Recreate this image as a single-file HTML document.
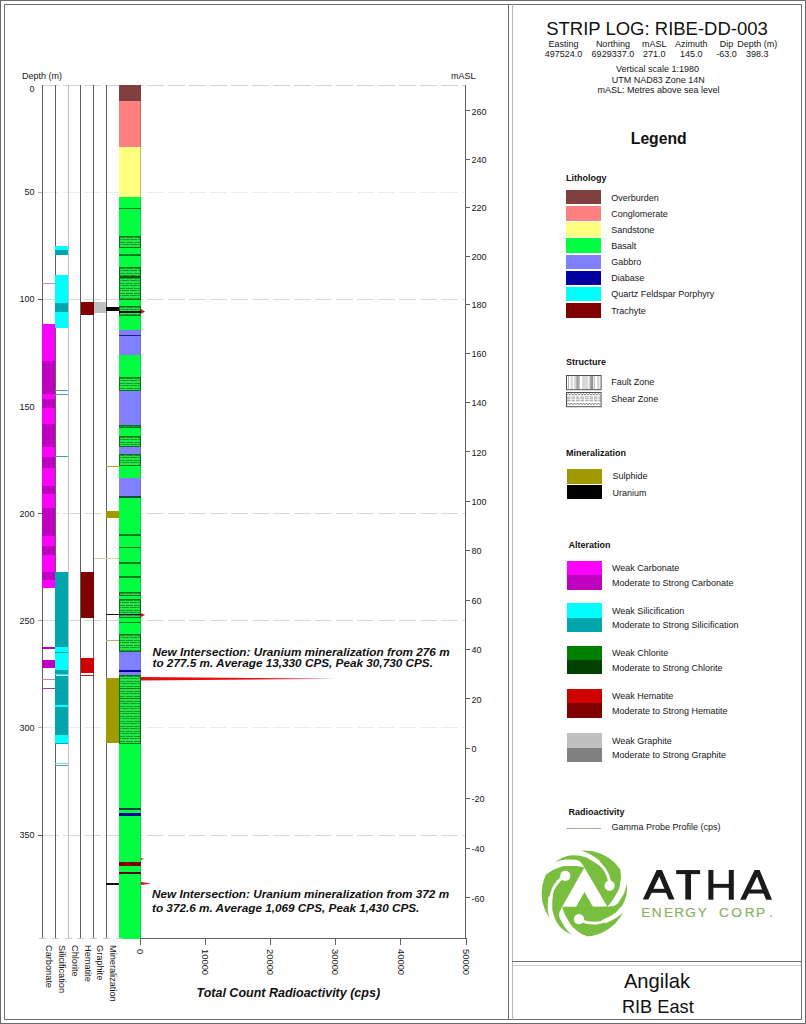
<!DOCTYPE html><html><head><meta charset="utf-8"><style>
html,body{margin:0;padding:0;background:#fff;}
body{width:806px;height:1024px;position:relative;overflow:hidden;font-family:"Liberation Sans", sans-serif;}
div{box-sizing:border-box;}
</style></head><body>
<div style="position:absolute;left:0.00px;top:0.00px;width:806.00px;height:1.00px;background:#6a6a6a;"></div>
<div style="position:absolute;left:0.00px;top:1023.00px;width:806.00px;height:1.00px;background:#6a6a6a;"></div>
<div style="position:absolute;left:0.00px;top:0.00px;width:1.00px;height:1024.00px;background:#6a6a6a;"></div>
<div style="position:absolute;left:805.00px;top:0.00px;width:1.00px;height:1024.00px;background:#6a6a6a;"></div>
<div style="position:absolute;left:4.00px;top:4.00px;width:798.00px;height:1.00px;background:#707070;"></div>
<div style="position:absolute;left:4.00px;top:1019.00px;width:798.00px;height:1.00px;background:#707070;"></div>
<div style="position:absolute;left:4.00px;top:4.00px;width:1.00px;height:1016.00px;background:#707070;"></div>
<div style="position:absolute;left:801.00px;top:4.00px;width:1.00px;height:1016.00px;background:#707070;"></div>
<div style="position:absolute;left:508.00px;top:4.00px;width:1.00px;height:1016.00px;background:#707070;"></div>
<div style="position:absolute;left:512.00px;top:4.00px;width:1.00px;height:1016.00px;background:#b8b8b8;"></div>
<div style="position:absolute;left:512.00px;top:961.00px;width:289.00px;height:1.00px;background:#707070;"></div>
<div style="position:absolute;left:513.00px;top:965.00px;width:288.00px;height:1.00px;background:#d0d0d0;"></div>
<div style="position:absolute;left:42px;top:84.50px;width:424px;height:1px;background:repeating-linear-gradient(90deg,#d4d4d4 0 17px,transparent 17px 21px);"></div>
<div style="position:absolute;left:42px;top:191.64px;width:424px;height:1px;background:repeating-linear-gradient(90deg,#ebebeb 0 17px,transparent 17px 21px);"></div>
<div style="position:absolute;left:42px;top:298.79px;width:424px;height:1px;background:repeating-linear-gradient(90deg,#dadada 0 17px,transparent 17px 21px);"></div>
<div style="position:absolute;left:42px;top:513.08px;width:424px;height:1px;background:repeating-linear-gradient(90deg,#d8d8d8 0 17px,transparent 17px 21px);"></div>
<div style="position:absolute;left:42px;top:620.23px;width:424px;height:1px;background:repeating-linear-gradient(90deg,#d8d8d8 0 17px,transparent 17px 21px);"></div>
<div style="position:absolute;left:42px;top:727.37px;width:424px;height:1px;background:repeating-linear-gradient(90deg,#eaeaea 0 17px,transparent 17px 21px);"></div>
<div style="position:absolute;left:42px;top:834.51px;width:424px;height:1px;background:repeating-linear-gradient(90deg,#d8d8d8 0 17px,transparent 17px 21px);"></div>
<div style="position:absolute;left:119.00px;top:85.00px;width:22.00px;height:16.00px;background:#804040;"></div>
<div style="position:absolute;left:119.00px;top:101.00px;width:22.00px;height:45.80px;background:#ff8080;"></div>
<div style="position:absolute;left:119.00px;top:146.80px;width:22.00px;height:50.20px;background:#ffff80;"></div>
<div style="position:absolute;left:119.00px;top:197.00px;width:22.00px;height:741.60px;background:#00ff40;"></div>
<div style="position:absolute;left:119.00px;top:207.70px;width:22.00px;height:1.20px;background:#0b7a22;"></div>
<svg style="position:absolute;left:119px;top:236px" width="22" height="12"><rect x="0" y="0" width="100%" height="100%" fill="url(#hp)"/><rect x="0.5" y="0.5" width="21" height="11" fill="none" stroke="#0b7020" stroke-width="1"/></svg>
<div style="position:absolute;left:119.00px;top:254.35px;width:22.00px;height:1.50px;background:#0b7a22;"></div>
<svg style="position:absolute;left:119px;top:267px" width="22" height="33"><rect x="0" y="0" width="100%" height="100%" fill="url(#hp)"/><rect x="0.5" y="0.5" width="21" height="32" fill="none" stroke="#0b7020" stroke-width="1"/></svg>
<div style="position:absolute;left:119.00px;top:275.60px;width:22.00px;height:2.00px;background:#0a5a14;"></div>
<svg style="position:absolute;left:119px;top:306px" width="22" height="10"><rect x="0" y="0" width="100%" height="100%" fill="url(#hp)"/><rect x="0.5" y="0.5" width="21" height="9" fill="none" stroke="#0b7020" stroke-width="1"/></svg>
<div style="position:absolute;left:119.00px;top:311.45px;width:22.00px;height:1.50px;background:#000;"></div>
<div style="position:absolute;left:119.00px;top:330.00px;width:22.00px;height:25.30px;background:#8080ff;"></div>
<div style="position:absolute;left:119.00px;top:334.75px;width:22.00px;height:1.50px;background:#202080;"></div>
<svg style="position:absolute;left:119px;top:377px" width="22" height="14"><rect x="0" y="0" width="100%" height="100%" fill="url(#hp)"/><rect x="0.5" y="0.5" width="21" height="13" fill="none" stroke="#0b7020" stroke-width="1"/></svg>
<div style="position:absolute;left:119.00px;top:391.30px;width:22.00px;height:33.40px;background:#8080ff;"></div>
<svg style="position:absolute;left:119px;top:425px" width="22" height="3"><rect x="0" y="0" width="100%" height="100%" fill="url(#hp)"/><rect x="0.5" y="0.5" width="21" height="2" fill="none" stroke="#0b7020" stroke-width="1"/></svg>
<svg style="position:absolute;left:119px;top:436px" width="22" height="11"><rect x="0" y="0" width="100%" height="100%" fill="url(#hp)"/><rect x="0.5" y="0.5" width="21" height="10" fill="none" stroke="#0b7020" stroke-width="1"/></svg>
<div style="position:absolute;left:119.00px;top:446.60px;width:22.00px;height:7.90px;background:#8080ff;"></div>
<svg style="position:absolute;left:119px;top:454px" width="22" height="12"><rect x="0" y="0" width="100%" height="100%" fill="url(#hp)"/><rect x="0.5" y="0.5" width="21" height="11" fill="none" stroke="#0b7020" stroke-width="1"/></svg>
<div style="position:absolute;left:119.00px;top:478.00px;width:22.00px;height:19.00px;background:#8080ff;"></div>
<div style="position:absolute;left:119.00px;top:496.25px;width:22.00px;height:1.50px;background:#104a40;"></div>
<div style="position:absolute;left:119.00px;top:534.05px;width:22.00px;height:1.50px;background:#0b7a22;"></div>
<div style="position:absolute;left:119.00px;top:546.95px;width:22.00px;height:1.50px;background:#0b7a22;"></div>
<div style="position:absolute;left:119.00px;top:562.45px;width:22.00px;height:1.50px;background:#0b7a22;"></div>
<div style="position:absolute;left:119.00px;top:576.25px;width:22.00px;height:1.50px;background:#0b7a22;"></div>
<svg style="position:absolute;left:119px;top:592px" width="22" height="4"><rect x="0" y="0" width="100%" height="100%" fill="url(#hp)"/><rect x="0.5" y="0.5" width="21" height="3" fill="none" stroke="#0b7020" stroke-width="1"/></svg>
<svg style="position:absolute;left:119px;top:599px" width="22" height="19"><rect x="0" y="0" width="100%" height="100%" fill="url(#hp)"/><rect x="0.5" y="0.5" width="21" height="18" fill="none" stroke="#0b7020" stroke-width="1"/></svg>
<div style="position:absolute;left:119.00px;top:613.55px;width:22.00px;height:1.50px;background:#000;"></div>
<div style="position:absolute;left:119.00px;top:621.70px;width:22.00px;height:1.20px;background:#0b7a22;"></div>
<svg style="position:absolute;left:119px;top:634px" width="22" height="18"><rect x="0" y="0" width="100%" height="100%" fill="url(#hp)"/><rect x="0.5" y="0.5" width="21" height="17" fill="none" stroke="#0b7020" stroke-width="1"/></svg>
<div style="position:absolute;left:119.00px;top:652.30px;width:22.00px;height:23.00px;background:#8080ff;"></div>
<div style="position:absolute;left:119.00px;top:670.00px;width:22.00px;height:2.00px;background:#0000a0;"></div>
<svg style="position:absolute;left:119px;top:675px" width="22" height="69"><rect x="0" y="0" width="100%" height="100%" fill="url(#hp)"/><rect x="0.5" y="0.5" width="21" height="68" fill="none" stroke="#0b7020" stroke-width="1"/></svg>
<div style="position:absolute;left:119.00px;top:687.75px;width:22.00px;height:1.50px;background:#0b7a22;"></div>
<div style="position:absolute;left:119.00px;top:697.65px;width:22.00px;height:1.50px;background:#0b7a22;"></div>
<div style="position:absolute;left:119.00px;top:808.00px;width:22.00px;height:2.00px;background:#104040;"></div>
<div style="position:absolute;left:119.00px;top:813.40px;width:22.00px;height:2.40px;background:#0000a0;"></div>
<div style="position:absolute;left:119.00px;top:861.80px;width:22.00px;height:4.00px;background:#800000;"></div>
<div style="position:absolute;left:119.00px;top:872.25px;width:22.00px;height:1.50px;background:#600000;"></div>
<svg width="0" height="0" style="position:absolute"><defs>
<pattern id="hp" patternUnits="userSpaceOnUse" width="8" height="5">
<rect width="8" height="5" fill="#22e844"/>
<rect x="0" y="1" width="8" height="1" fill="#0f9a2c"/>
<rect x="6" y="1" width="1" height="1" fill="#40d050"/>
<rect x="0" y="3" width="8" height="1" fill="#0f9a2c"/>
<rect x="2" y="3" width="1" height="1" fill="#40d050"/>
</pattern></defs></svg>
<div style="position:absolute;left:42.00px;top:85.00px;width:1.00px;height:853.60px;background:#606060;"></div>
<div style="position:absolute;left:55.00px;top:85.00px;width:1.00px;height:853.60px;background:#606060;"></div>
<div style="position:absolute;left:68.00px;top:85.00px;width:1.00px;height:853.60px;background:#c0c0c0;"></div>
<div style="position:absolute;left:80.00px;top:85.00px;width:1.00px;height:853.60px;background:#606060;"></div>
<div style="position:absolute;left:93.00px;top:85.00px;width:1.00px;height:853.60px;background:#606060;"></div>
<div style="position:absolute;left:106.00px;top:85.00px;width:1.00px;height:853.60px;background:#606060;"></div>
<div style="position:absolute;left:42.00px;top:323.90px;width:13.00px;height:37.50px;background:#ff00ff;"></div>
<div style="position:absolute;left:42.00px;top:361.40px;width:13.00px;height:32.80px;background:#c000c0;"></div>
<div style="position:absolute;left:42.00px;top:394.20px;width:13.00px;height:4.80px;background:#ff00ff;"></div>
<div style="position:absolute;left:42.00px;top:399.00px;width:13.00px;height:8.80px;background:#c000c0;"></div>
<div style="position:absolute;left:42.00px;top:407.80px;width:13.00px;height:16.40px;background:#ff00ff;"></div>
<div style="position:absolute;left:42.00px;top:424.20px;width:13.00px;height:22.50px;background:#c000c0;"></div>
<div style="position:absolute;left:42.00px;top:446.70px;width:13.00px;height:9.90px;background:#ff00ff;"></div>
<div style="position:absolute;left:42.00px;top:456.60px;width:13.00px;height:11.00px;background:#c000c0;"></div>
<div style="position:absolute;left:42.00px;top:467.60px;width:13.00px;height:18.30px;background:#ff00ff;"></div>
<div style="position:absolute;left:42.00px;top:485.90px;width:13.00px;height:8.10px;background:#c000c0;"></div>
<div style="position:absolute;left:42.00px;top:494.00px;width:13.00px;height:13.90px;background:#ff00ff;"></div>
<div style="position:absolute;left:42.00px;top:507.90px;width:13.00px;height:28.50px;background:#c000c0;"></div>
<div style="position:absolute;left:42.00px;top:536.40px;width:13.00px;height:9.60px;background:#ff00ff;"></div>
<div style="position:absolute;left:42.00px;top:546.00px;width:13.00px;height:8.80px;background:#c000c0;"></div>
<div style="position:absolute;left:42.00px;top:554.80px;width:13.00px;height:17.50px;background:#ff00ff;"></div>
<div style="position:absolute;left:42.00px;top:572.30px;width:13.00px;height:7.40px;background:#c000c0;"></div>
<div style="position:absolute;left:42.00px;top:579.70px;width:13.00px;height:8.80px;background:#ff00ff;"></div>
<div style="position:absolute;left:42.00px;top:647.00px;width:13.00px;height:2.00px;background:#c000c0;"></div>
<div style="position:absolute;left:42.00px;top:660.30px;width:13.00px;height:7.30px;background:#c000c0;"></div>
<div style="position:absolute;left:42.00px;top:282.50px;width:13.00px;height:1.20px;background:#c090c0;"></div>
<div style="position:absolute;left:42.00px;top:678.50px;width:13.00px;height:1.20px;background:#d080b0;"></div>
<div style="position:absolute;left:42.00px;top:687.60px;width:13.00px;height:1.20px;background:#a04090;"></div>
<div style="position:absolute;left:55.00px;top:246.30px;width:13.00px;height:3.50px;background:#00ffff;"></div>
<div style="position:absolute;left:55.00px;top:249.80px;width:13.00px;height:5.00px;background:#00a6ac;"></div>
<div style="position:absolute;left:55.00px;top:274.50px;width:13.00px;height:28.70px;background:#00ffff;"></div>
<div style="position:absolute;left:55.00px;top:303.20px;width:13.00px;height:8.80px;background:#00a6ac;"></div>
<div style="position:absolute;left:55.00px;top:312.00px;width:13.00px;height:16.00px;background:#00ffff;"></div>
<div style="position:absolute;left:55.00px;top:571.60px;width:13.00px;height:75.20px;background:#00a6ac;"></div>
<div style="position:absolute;left:55.00px;top:646.80px;width:13.00px;height:23.20px;background:#00ffff;"></div>
<div style="position:absolute;left:55.00px;top:651.60px;width:13.00px;height:1.40px;background:#00a6ac;"></div>
<div style="position:absolute;left:55.00px;top:670.00px;width:13.00px;height:3.70px;background:#00a6ac;"></div>
<div style="position:absolute;left:55.00px;top:673.70px;width:13.00px;height:1.80px;background:#00ffff;"></div>
<div style="position:absolute;left:55.00px;top:675.50px;width:13.00px;height:68.00px;background:#00a6ac;"></div>
<div style="position:absolute;left:55.00px;top:705.00px;width:13.00px;height:2.00px;background:#00ffff;"></div>
<div style="position:absolute;left:55.00px;top:734.70px;width:13.00px;height:8.80px;background:#00ffff;"></div>
<div style="position:absolute;left:55.00px;top:389.50px;width:13.00px;height:1.20px;background:#40a0b0;"></div>
<div style="position:absolute;left:55.00px;top:393.60px;width:13.00px;height:1.20px;background:#40a0b0;"></div>
<div style="position:absolute;left:55.00px;top:455.60px;width:13.00px;height:1.20px;background:#40a0b0;"></div>
<div style="position:absolute;left:55.00px;top:765.00px;width:13.00px;height:1.20px;background:#40a0b0;"></div>
<div style="position:absolute;left:55.00px;top:763.10px;width:13.00px;height:1.20px;background:#90d0d0;"></div>
<div style="position:absolute;left:81.00px;top:302.00px;width:13.00px;height:12.50px;background:#800000;"></div>
<div style="position:absolute;left:81.00px;top:572.00px;width:13.00px;height:46.00px;background:#800000;"></div>
<div style="position:absolute;left:81.00px;top:658.00px;width:13.00px;height:14.90px;background:#d00000;"></div>
<div style="position:absolute;left:81.00px;top:675.00px;width:13.00px;height:1.30px;background:#a02020;"></div>
<div style="position:absolute;left:94.00px;top:302.00px;width:12.00px;height:11.00px;background:#c0c0c0;"></div>
<div style="position:absolute;left:106.00px;top:306.50px;width:13.00px;height:4.50px;background:#000;"></div>
<div style="position:absolute;left:106.00px;top:465.70px;width:13.00px;height:1.20px;background:#b0a040;"></div>
<div style="position:absolute;left:106.00px;top:510.60px;width:13.00px;height:7.30px;background:#a09a00;"></div>
<div style="position:absolute;left:94.00px;top:557.80px;width:25.00px;height:1.20px;background:#d8d0a0;"></div>
<div style="position:absolute;left:106.00px;top:613.70px;width:13.00px;height:1.30px;background:#111;"></div>
<div style="position:absolute;left:106.00px;top:640.00px;width:13.00px;height:1.20px;background:#b8b070;"></div>
<div style="position:absolute;left:106.00px;top:677.70px;width:13.00px;height:65.80px;background:#a09a00;"></div>
<div style="position:absolute;left:106.00px;top:883.30px;width:13.00px;height:1.30px;background:#111;"></div>
<div style="position:absolute;left:140.20px;top:197.00px;width:0.70px;height:741.60px;background:rgba(80,60,60,0.22);"></div>
<div style="position:absolute;left:140.20px;top:85.00px;width:0.70px;height:112.00px;background:rgba(80,60,60,0.35);"></div>
<svg style="position:absolute;left:141px;top:308.00px" width="6.00" height="7"><polygon points="0,1 4.00,3.50 0,6" fill="#e01010"/></svg>
<svg style="position:absolute;left:141px;top:612.00px" width="6.00" height="6"><polygon points="0,1 4.00,3.00 0,5" fill="#e01010"/></svg>
<svg style="position:absolute;left:141px;top:675.55px" width="196.00" height="5.5"><polygon points="0,1 194.00,2.75 0,4.5" fill="#e01010"/></svg>
<svg style="position:absolute;left:141px;top:856.50px" width="5.00" height="4"><polygon points="0,1 3.00,2.00 0,3" fill="#e01010"/></svg>
<svg style="position:absolute;left:141px;top:880.80px" width="12.00" height="5"><polygon points="0,1 10.00,2.50 0,4" fill="#e01010"/></svg>
<div style="position:absolute;left:38.00px;top:85.00px;width:4.00px;height:1.00px;background:#fff;"></div>
<div style="position:absolute;left:34.50px;top:84.68px;font-size:9px;line-height:9px;font-weight:normal;font-style:normal;color:#161616;white-space:nowrap;transform:translateX(-100%);">0</div>
<div style="position:absolute;left:38.00px;top:191.64px;width:4.00px;height:1.00px;background:#b0b0b0;"></div>
<div style="position:absolute;left:34.50px;top:188.33px;font-size:9px;line-height:9px;font-weight:normal;font-style:normal;color:#161616;white-space:nowrap;transform:translateX(-100%);">50</div>
<div style="position:absolute;left:38.00px;top:298.79px;width:4.00px;height:1.00px;background:#555;"></div>
<div style="position:absolute;left:34.50px;top:295.47px;font-size:9px;line-height:9px;font-weight:normal;font-style:normal;color:#161616;white-space:nowrap;transform:translateX(-100%);">100</div>
<div style="position:absolute;left:34.50px;top:402.62px;font-size:9px;line-height:9px;font-weight:normal;font-style:normal;color:#161616;white-space:nowrap;transform:translateX(-100%);">150</div>
<div style="position:absolute;left:38.00px;top:513.08px;width:4.00px;height:1.00px;background:#666;"></div>
<div style="position:absolute;left:34.50px;top:509.76px;font-size:9px;line-height:9px;font-weight:normal;font-style:normal;color:#161616;white-space:nowrap;transform:translateX(-100%);">200</div>
<div style="position:absolute;left:38.00px;top:620.23px;width:4.00px;height:1.00px;background:#a0a0a0;"></div>
<div style="position:absolute;left:34.50px;top:616.91px;font-size:9px;line-height:9px;font-weight:normal;font-style:normal;color:#161616;white-space:nowrap;transform:translateX(-100%);">250</div>
<div style="position:absolute;left:38.00px;top:727.37px;width:4.00px;height:1.00px;background:#b0b0b0;"></div>
<div style="position:absolute;left:34.50px;top:724.05px;font-size:9px;line-height:9px;font-weight:normal;font-style:normal;color:#161616;white-space:nowrap;transform:translateX(-100%);">300</div>
<div style="position:absolute;left:38.00px;top:834.51px;width:4.00px;height:1.00px;background:#555;"></div>
<div style="position:absolute;left:34.50px;top:831.20px;font-size:9px;line-height:9px;font-weight:normal;font-style:normal;color:#161616;white-space:nowrap;transform:translateX(-100%);">350</div>
<div style="position:absolute;left:22.00px;top:71.68px;font-size:9px;line-height:9px;font-weight:normal;font-style:normal;color:#161616;white-space:nowrap;">Depth (m)</div>
<div style="position:absolute;left:451.00px;top:72.38px;font-size:9px;line-height:9px;font-weight:normal;font-style:normal;color:#161616;white-space:nowrap;">mASL</div>
<div style="position:absolute;left:465.00px;top:85.00px;width:1.00px;height:854.10px;background:#606060;"></div>
<div style="position:absolute;left:466.00px;top:110.30px;width:4.00px;height:1.00px;background:#606060;"></div>
<div style="position:absolute;left:471.50px;top:107.58px;font-size:9px;line-height:9px;font-weight:normal;font-style:normal;color:#161616;white-space:nowrap;">260</div>
<div style="position:absolute;left:466.00px;top:159.20px;width:4.00px;height:1.00px;background:#606060;"></div>
<div style="position:absolute;left:471.50px;top:156.48px;font-size:9px;line-height:9px;font-weight:normal;font-style:normal;color:#161616;white-space:nowrap;">240</div>
<div style="position:absolute;left:466.00px;top:207.20px;width:4.00px;height:1.00px;background:#606060;"></div>
<div style="position:absolute;left:471.50px;top:204.48px;font-size:9px;line-height:9px;font-weight:normal;font-style:normal;color:#161616;white-space:nowrap;">220</div>
<div style="position:absolute;left:466.00px;top:255.50px;width:4.00px;height:1.00px;background:#606060;"></div>
<div style="position:absolute;left:471.50px;top:252.78px;font-size:9px;line-height:9px;font-weight:normal;font-style:normal;color:#161616;white-space:nowrap;">200</div>
<div style="position:absolute;left:466.00px;top:304.10px;width:4.00px;height:1.00px;background:#606060;"></div>
<div style="position:absolute;left:471.50px;top:301.38px;font-size:9px;line-height:9px;font-weight:normal;font-style:normal;color:#161616;white-space:nowrap;">180</div>
<div style="position:absolute;left:466.00px;top:353.20px;width:4.00px;height:1.00px;background:#606060;"></div>
<div style="position:absolute;left:471.50px;top:350.48px;font-size:9px;line-height:9px;font-weight:normal;font-style:normal;color:#161616;white-space:nowrap;">160</div>
<div style="position:absolute;left:466.00px;top:402.00px;width:4.00px;height:1.00px;background:#606060;"></div>
<div style="position:absolute;left:471.50px;top:399.28px;font-size:9px;line-height:9px;font-weight:normal;font-style:normal;color:#161616;white-space:nowrap;">140</div>
<div style="position:absolute;left:466.00px;top:451.40px;width:4.00px;height:1.00px;background:#606060;"></div>
<div style="position:absolute;left:471.50px;top:448.68px;font-size:9px;line-height:9px;font-weight:normal;font-style:normal;color:#161616;white-space:nowrap;">120</div>
<div style="position:absolute;left:466.00px;top:500.50px;width:4.00px;height:1.00px;background:#606060;"></div>
<div style="position:absolute;left:471.50px;top:497.78px;font-size:9px;line-height:9px;font-weight:normal;font-style:normal;color:#161616;white-space:nowrap;">100</div>
<div style="position:absolute;left:466.00px;top:549.50px;width:4.00px;height:1.00px;background:#606060;"></div>
<div style="position:absolute;left:471.50px;top:546.78px;font-size:9px;line-height:9px;font-weight:normal;font-style:normal;color:#161616;white-space:nowrap;">80</div>
<div style="position:absolute;left:466.00px;top:599.50px;width:4.00px;height:1.00px;background:#606060;"></div>
<div style="position:absolute;left:471.50px;top:596.78px;font-size:9px;line-height:9px;font-weight:normal;font-style:normal;color:#161616;white-space:nowrap;">60</div>
<div style="position:absolute;left:466.00px;top:648.60px;width:4.00px;height:1.00px;background:#606060;"></div>
<div style="position:absolute;left:471.50px;top:645.88px;font-size:9px;line-height:9px;font-weight:normal;font-style:normal;color:#161616;white-space:nowrap;">40</div>
<div style="position:absolute;left:466.00px;top:698.40px;width:4.00px;height:1.00px;background:#606060;"></div>
<div style="position:absolute;left:471.50px;top:695.68px;font-size:9px;line-height:9px;font-weight:normal;font-style:normal;color:#161616;white-space:nowrap;">20</div>
<div style="position:absolute;left:466.00px;top:748.20px;width:4.00px;height:1.00px;background:#606060;"></div>
<div style="position:absolute;left:471.50px;top:745.48px;font-size:9px;line-height:9px;font-weight:normal;font-style:normal;color:#161616;white-space:nowrap;">0</div>
<div style="position:absolute;left:466.00px;top:798.00px;width:4.00px;height:1.00px;background:#606060;"></div>
<div style="position:absolute;left:471.50px;top:795.28px;font-size:9px;line-height:9px;font-weight:normal;font-style:normal;color:#161616;white-space:nowrap;">-20</div>
<div style="position:absolute;left:466.00px;top:847.80px;width:4.00px;height:1.00px;background:#606060;"></div>
<div style="position:absolute;left:471.50px;top:845.08px;font-size:9px;line-height:9px;font-weight:normal;font-style:normal;color:#161616;white-space:nowrap;">-40</div>
<div style="position:absolute;left:466.00px;top:897.30px;width:4.00px;height:1.00px;background:#606060;"></div>
<div style="position:absolute;left:471.50px;top:894.58px;font-size:9px;line-height:9px;font-weight:normal;font-style:normal;color:#161616;white-space:nowrap;">-60</div>
<div style="position:absolute;left:140.00px;top:938.00px;width:326.00px;height:1.00px;background:#606060;"></div>
<div style="position:absolute;left:140.00px;top:938.00px;width:1.00px;height:7.00px;background:#606060;"></div>
<div style="position:absolute;left:145.16px;top:948.50px;font-size:9.4px;line-height:9.4px;color:#161616;white-space:nowrap;transform-origin:0 0;transform:rotate(90deg);">0</div>
<div style="position:absolute;left:205.10px;top:938.00px;width:1.00px;height:7.00px;background:#606060;"></div>
<div style="position:absolute;left:210.26px;top:948.50px;font-size:9.4px;line-height:9.4px;color:#161616;white-space:nowrap;transform-origin:0 0;transform:rotate(90deg);">10000</div>
<div style="position:absolute;left:270.20px;top:938.00px;width:1.00px;height:7.00px;background:#606060;"></div>
<div style="position:absolute;left:275.36px;top:948.50px;font-size:9.4px;line-height:9.4px;color:#161616;white-space:nowrap;transform-origin:0 0;transform:rotate(90deg);">20000</div>
<div style="position:absolute;left:335.30px;top:938.00px;width:1.00px;height:7.00px;background:#606060;"></div>
<div style="position:absolute;left:340.46px;top:948.50px;font-size:9.4px;line-height:9.4px;color:#161616;white-space:nowrap;transform-origin:0 0;transform:rotate(90deg);">30000</div>
<div style="position:absolute;left:400.40px;top:938.00px;width:1.00px;height:7.00px;background:#606060;"></div>
<div style="position:absolute;left:405.56px;top:948.50px;font-size:9.4px;line-height:9.4px;color:#161616;white-space:nowrap;transform-origin:0 0;transform:rotate(90deg);">40000</div>
<div style="position:absolute;left:465.50px;top:938.00px;width:1.00px;height:7.00px;background:#606060;"></div>
<div style="position:absolute;left:470.66px;top:948.50px;font-size:9.4px;line-height:9.4px;color:#161616;white-space:nowrap;transform-origin:0 0;transform:rotate(90deg);">50000</div>
<div style="position:absolute;left:39.00px;top:938.00px;width:7.00px;height:1.00px;background:#c8c8c8;"></div>
<div style="position:absolute;left:52.00px;top:938.00px;width:7.00px;height:1.00px;background:#c8c8c8;"></div>
<div style="position:absolute;left:65.00px;top:938.00px;width:7.00px;height:1.00px;background:#c8c8c8;"></div>
<div style="position:absolute;left:77.00px;top:938.00px;width:7.00px;height:1.00px;background:#c8c8c8;"></div>
<div style="position:absolute;left:90.00px;top:938.00px;width:7.00px;height:1.00px;background:#c8c8c8;"></div>
<div style="position:absolute;left:103.00px;top:938.00px;width:7.00px;height:1.00px;background:#c8c8c8;"></div>
<div style="position:absolute;left:116.00px;top:938.00px;width:7.00px;height:1.00px;background:#c8c8c8;"></div>
<div style="position:absolute;left:53.09px;top:944.60px;font-size:9.2px;line-height:9.2px;color:#161616;white-space:nowrap;transform-origin:0 0;transform:rotate(90deg);">Carbonate</div>
<div style="position:absolute;left:66.09px;top:944.60px;font-size:9.2px;line-height:9.2px;color:#161616;white-space:nowrap;transform-origin:0 0;transform:rotate(90deg);">Silicification</div>
<div style="position:absolute;left:78.79px;top:944.60px;font-size:9.2px;line-height:9.2px;color:#161616;white-space:nowrap;transform-origin:0 0;transform:rotate(90deg);">Chlorite</div>
<div style="position:absolute;left:91.59px;top:944.60px;font-size:9.2px;line-height:9.2px;color:#161616;white-space:nowrap;transform-origin:0 0;transform:rotate(90deg);">Hematite</div>
<div style="position:absolute;left:103.79px;top:944.60px;font-size:9.2px;line-height:9.2px;color:#161616;white-space:nowrap;transform-origin:0 0;transform:rotate(90deg);">Graphite</div>
<div style="position:absolute;left:116.99px;top:944.60px;font-size:9.2px;line-height:9.2px;color:#161616;white-space:nowrap;transform-origin:0 0;transform:rotate(90deg);">Mineralization</div>
<div style="position:absolute;left:196.50px;top:986.82px;font-size:12.5px;line-height:12.5px;font-weight:bold;font-style:italic;color:#111;white-space:nowrap;">Total Count Radioactivity (cps)</div>
<div style="position:absolute;left:152.50px;top:645.55px;font-size:11.75px;line-height:11.75px;font-weight:bold;font-style:italic;color:#111;white-space:nowrap;">New Intersection: Uranium mineralization from 276 m</div>
<div style="position:absolute;left:152.50px;top:656.85px;font-size:11.75px;line-height:11.75px;font-weight:bold;font-style:italic;color:#111;white-space:nowrap;">to 277.5 m. Average 13,330 CPS, Peak 30,730 CPS.</div>
<div style="position:absolute;left:152.00px;top:888.45px;font-size:11.75px;line-height:11.75px;font-weight:bold;font-style:italic;color:#111;white-space:nowrap;">New Intersection: Uranium mineralization from 372 m</div>
<div style="position:absolute;left:152.00px;top:901.55px;font-size:11.75px;line-height:11.75px;font-weight:bold;font-style:italic;color:#111;white-space:nowrap;">to 372.6 m. Average 1,069 CPS, Peak 1,430 CPS.</div>
<div style="position:absolute;left:657.00px;top:19.54px;font-size:18.5px;line-height:18.5px;font-weight:normal;font-style:normal;color:#111;white-space:nowrap;transform:translateX(-50%);">STRIP LOG: RIBE-DD-003</div>
<div style="position:absolute;left:563.50px;top:40.48px;font-size:9px;line-height:9px;font-weight:normal;font-style:normal;color:#161616;white-space:nowrap;transform:translateX(-50%);">Easting</div>
<div style="position:absolute;left:563.50px;top:49.98px;font-size:9px;line-height:9px;font-weight:normal;font-style:normal;color:#161616;white-space:nowrap;transform:translateX(-50%);">497524.0</div>
<div style="position:absolute;left:612.90px;top:40.48px;font-size:9px;line-height:9px;font-weight:normal;font-style:normal;color:#161616;white-space:nowrap;transform:translateX(-50%);">Northing</div>
<div style="position:absolute;left:612.90px;top:49.98px;font-size:9px;line-height:9px;font-weight:normal;font-style:normal;color:#161616;white-space:nowrap;transform:translateX(-50%);">6929337.0</div>
<div style="position:absolute;left:654.20px;top:40.48px;font-size:9px;line-height:9px;font-weight:normal;font-style:normal;color:#161616;white-space:nowrap;transform:translateX(-50%);">mASL</div>
<div style="position:absolute;left:654.20px;top:49.98px;font-size:9px;line-height:9px;font-weight:normal;font-style:normal;color:#161616;white-space:nowrap;transform:translateX(-50%);">271.0</div>
<div style="position:absolute;left:691.20px;top:40.48px;font-size:9px;line-height:9px;font-weight:normal;font-style:normal;color:#161616;white-space:nowrap;transform:translateX(-50%);">Azimuth</div>
<div style="position:absolute;left:691.20px;top:49.98px;font-size:9px;line-height:9px;font-weight:normal;font-style:normal;color:#161616;white-space:nowrap;transform:translateX(-50%);">145.0</div>
<div style="position:absolute;left:726.40px;top:40.48px;font-size:9px;line-height:9px;font-weight:normal;font-style:normal;color:#161616;white-space:nowrap;transform:translateX(-50%);">Dip</div>
<div style="position:absolute;left:726.40px;top:49.98px;font-size:9px;line-height:9px;font-weight:normal;font-style:normal;color:#161616;white-space:nowrap;transform:translateX(-50%);">-63.0</div>
<div style="position:absolute;left:757.30px;top:40.48px;font-size:9px;line-height:9px;font-weight:normal;font-style:normal;color:#161616;white-space:nowrap;transform:translateX(-50%);">Depth (m)</div>
<div style="position:absolute;left:757.30px;top:49.98px;font-size:9px;line-height:9px;font-weight:normal;font-style:normal;color:#161616;white-space:nowrap;transform:translateX(-50%);">398.3</div>
<div style="position:absolute;left:657.50px;top:65.38px;font-size:9px;line-height:9px;font-weight:normal;font-style:normal;color:#161616;white-space:nowrap;transform:translateX(-50%);">Vertical scale 1:1980</div>
<div style="position:absolute;left:658.30px;top:75.88px;font-size:9px;line-height:9px;font-weight:normal;font-style:normal;color:#161616;white-space:nowrap;transform:translateX(-50%);">UTM NAD83 Zone 14N</div>
<div style="position:absolute;left:658.60px;top:85.58px;font-size:9px;line-height:9px;font-weight:normal;font-style:normal;color:#161616;white-space:nowrap;transform:translateX(-50%);">mASL: Metres above sea level</div>
<div style="position:absolute;left:658.70px;top:130.71px;font-size:15.7px;line-height:15.7px;font-weight:bold;font-style:normal;color:#111;white-space:nowrap;transform:translateX(-50%);">Legend</div>
<div style="position:absolute;left:566.00px;top:174.38px;font-size:9px;line-height:9px;font-weight:bold;font-style:normal;color:#111;white-space:nowrap;">Lithology</div>
<div style="position:absolute;left:566.00px;top:190.00px;width:35.00px;height:14.00px;background:#804040;"></div>
<div style="position:absolute;left:611.20px;top:193.53px;font-size:9px;line-height:9px;font-weight:normal;font-style:normal;color:#161616;white-space:nowrap;">Overburden</div>
<div style="position:absolute;left:566.00px;top:206.00px;width:35.00px;height:15.00px;background:#ff8080;"></div>
<div style="position:absolute;left:611.20px;top:209.68px;font-size:9px;line-height:9px;font-weight:normal;font-style:normal;color:#161616;white-space:nowrap;">Conglomerate</div>
<div style="position:absolute;left:566.00px;top:222.00px;width:35.00px;height:15.00px;background:#ffff80;"></div>
<div style="position:absolute;left:611.20px;top:225.83px;font-size:9px;line-height:9px;font-weight:normal;font-style:normal;color:#161616;white-space:nowrap;">Sandstone</div>
<div style="position:absolute;left:566.00px;top:238.00px;width:35.00px;height:15.00px;background:#00ff40;"></div>
<div style="position:absolute;left:611.20px;top:241.98px;font-size:9px;line-height:9px;font-weight:normal;font-style:normal;color:#161616;white-space:nowrap;">Basalt</div>
<div style="position:absolute;left:566.00px;top:255.00px;width:35.00px;height:14.00px;background:#8080ff;"></div>
<div style="position:absolute;left:611.20px;top:258.13px;font-size:9px;line-height:9px;font-weight:normal;font-style:normal;color:#161616;white-space:nowrap;">Gabbro</div>
<div style="position:absolute;left:566.00px;top:271.00px;width:35.00px;height:14.00px;background:#0000a0;"></div>
<div style="position:absolute;left:611.20px;top:274.28px;font-size:9px;line-height:9px;font-weight:normal;font-style:normal;color:#161616;white-space:nowrap;">Diabase</div>
<div style="position:absolute;left:566.00px;top:287.00px;width:35.00px;height:14.00px;background:#00ffff;"></div>
<div style="position:absolute;left:611.20px;top:290.43px;font-size:9px;line-height:9px;font-weight:normal;font-style:normal;color:#161616;white-space:nowrap;">Quartz Feldspar Porphyry</div>
<div style="position:absolute;left:566.00px;top:303.00px;width:35.00px;height:15.00px;background:#800000;"></div>
<div style="position:absolute;left:611.20px;top:306.58px;font-size:9px;line-height:9px;font-weight:normal;font-style:normal;color:#161616;white-space:nowrap;">Trachyte</div>
<div style="position:absolute;left:566.00px;top:357.88px;font-size:9px;line-height:9px;font-weight:bold;font-style:normal;color:#111;white-space:nowrap;">Structure</div>
<svg style="position:absolute;left:566px;top:375px" width="36" height="16"><rect x="4.7" y="1" width="2.1" height="13.5" fill="#d8d8d8"/><rect x="16.1" y="1" width="6.2" height="13.5" fill="#d8d8d8"/><rect x="31" y="1" width="2.5" height="13.5" fill="#d8d8d8"/><rect x="0.5" y="0.5" width="34.6" height="14.2" fill="none" stroke="#505050" stroke-width="1"/><line x1="2.5" y1="1" x2="2.5" y2="14.5" stroke="#aaa" stroke-width="0.8"/><line x1="9" y1="1" x2="9" y2="14.5" stroke="#999" stroke-width="0.8"/><line x1="10.9" y1="1" x2="10.9" y2="14.5" stroke="#666" stroke-width="0.8"/><line x1="11.8" y1="1" x2="11.8" y2="14.5" stroke="#777" stroke-width="0.8"/><line x1="13" y1="1" x2="13" y2="14.5" stroke="#666" stroke-width="0.8"/><line x1="24.2" y1="1" x2="24.2" y2="14.5" stroke="#666" stroke-width="0.8"/><line x1="25.4" y1="1" x2="25.4" y2="14.5" stroke="#777" stroke-width="0.8"/><line x1="26.4" y1="1" x2="26.4" y2="14.5" stroke="#666" stroke-width="0.8"/><line x1="28.2" y1="1" x2="28.2" y2="14.5" stroke="#999" stroke-width="0.8"/></svg>
<svg style="position:absolute;left:566px;top:392px" width="36" height="16"><rect x="0.5" y="0.5" width="34.6" height="14.2" fill="#fff" stroke="#505050" stroke-width="1"/><path d="M1,3.2 L1.0,3.2 L2.5,1.5 L4.0,3.2 L5.5,1.5 L7.0,3.2 L8.5,1.5 L10.0,3.2 L11.5,1.5 L13.0,3.2 L14.5,1.5 L16.0,3.2 L17.5,1.5 L19.0,3.2 L20.5,1.5 L22.0,3.2 L23.5,1.5 L25.0,3.2 L26.5,1.5 L28.0,3.2 L29.5,1.5 L31.0,3.2 L32.5,1.5 L34.0,3.2" fill="none" stroke="#666" stroke-width="0.8"/><path d="M1,12.8 L1.0,12.8 L2.5,11 L4.0,12.8 L5.5,11 L7.0,12.8 L8.5,11 L10.0,12.8 L11.5,11 L13.0,12.8 L14.5,11 L16.0,12.8 L17.5,11 L19.0,12.8 L20.5,11 L22.0,12.8 L23.5,11 L25.0,12.8 L26.5,11 L28.0,12.8 L29.5,11 L31.0,12.8 L32.5,11 L34.0,12.8" fill="none" stroke="#666" stroke-width="0.8"/><line x1="1" y1="5" x2="35" y2="5" stroke="#777" stroke-width="0.7" stroke-dasharray="3.5 1"/><line x1="1" y1="6.8" x2="35" y2="6.8" stroke="#777" stroke-width="0.7" stroke-dasharray="3.5 1"/><line x1="1" y1="8.7" x2="35" y2="8.7" stroke="#777" stroke-width="0.7" stroke-dasharray="3.5 1"/></svg>
<div style="position:absolute;left:611.20px;top:378.38px;font-size:9px;line-height:9px;font-weight:normal;font-style:normal;color:#161616;white-space:nowrap;">Fault Zone</div>
<div style="position:absolute;left:611.20px;top:394.88px;font-size:9px;line-height:9px;font-weight:normal;font-style:normal;color:#161616;white-space:nowrap;">Shear Zone</div>
<div style="position:absolute;left:566.00px;top:449.18px;font-size:9px;line-height:9px;font-weight:bold;font-style:normal;color:#111;white-space:nowrap;">Mineralization</div>
<div style="position:absolute;left:567.00px;top:469.00px;width:35.00px;height:15.00px;background:#a09a00;"></div>
<div style="position:absolute;left:567.00px;top:485.00px;width:35.00px;height:14.00px;background:#000;"></div>
<div style="position:absolute;left:612.50px;top:472.48px;font-size:9px;line-height:9px;font-weight:normal;font-style:normal;color:#161616;white-space:nowrap;">Sulphide</div>
<div style="position:absolute;left:612.50px;top:488.58px;font-size:9px;line-height:9px;font-weight:normal;font-style:normal;color:#161616;white-space:nowrap;">Uranium</div>
<div style="position:absolute;left:568.60px;top:541.38px;font-size:9px;line-height:9px;font-weight:bold;font-style:normal;color:#111;white-space:nowrap;">Alteration</div>
<div style="position:absolute;left:567.00px;top:561.00px;width:35.00px;height:14.00px;background:#ff00ff;"></div>
<div style="position:absolute;left:567.00px;top:575.00px;width:35.00px;height:15.00px;background:#c000c0;"></div>
<div style="position:absolute;left:612.00px;top:564.48px;font-size:9px;line-height:9px;font-weight:normal;font-style:normal;color:#161616;white-space:nowrap;">Weak Carbonate</div>
<div style="position:absolute;left:612.00px;top:578.88px;font-size:9px;line-height:9px;font-weight:normal;font-style:normal;color:#161616;white-space:nowrap;">Moderate to Strong Carbonate</div>
<div style="position:absolute;left:567.00px;top:603.00px;width:35.00px;height:15.00px;background:#00ffff;"></div>
<div style="position:absolute;left:567.00px;top:618.00px;width:35.00px;height:14.00px;background:#00a6ac;"></div>
<div style="position:absolute;left:612.00px;top:606.58px;font-size:9px;line-height:9px;font-weight:normal;font-style:normal;color:#161616;white-space:nowrap;">Weak Silicification</div>
<div style="position:absolute;left:612.00px;top:620.98px;font-size:9px;line-height:9px;font-weight:normal;font-style:normal;color:#161616;white-space:nowrap;">Moderate to Strong Silicification</div>
<div style="position:absolute;left:567.00px;top:646.00px;width:35.00px;height:14.00px;background:#008000;"></div>
<div style="position:absolute;left:567.00px;top:660.00px;width:35.00px;height:14.00px;background:#004000;"></div>
<div style="position:absolute;left:612.00px;top:649.18px;font-size:9px;line-height:9px;font-weight:normal;font-style:normal;color:#161616;white-space:nowrap;">Weak Chlorite</div>
<div style="position:absolute;left:612.00px;top:663.58px;font-size:9px;line-height:9px;font-weight:normal;font-style:normal;color:#161616;white-space:nowrap;">Moderate to Strong Chlorite</div>
<div style="position:absolute;left:567.00px;top:689.00px;width:35.00px;height:14.00px;background:#d00000;"></div>
<div style="position:absolute;left:567.00px;top:703.00px;width:35.00px;height:15.00px;background:#800000;"></div>
<div style="position:absolute;left:612.00px;top:692.48px;font-size:9px;line-height:9px;font-weight:normal;font-style:normal;color:#161616;white-space:nowrap;">Weak Hematite</div>
<div style="position:absolute;left:612.00px;top:706.88px;font-size:9px;line-height:9px;font-weight:normal;font-style:normal;color:#161616;white-space:nowrap;">Moderate to Strong Hematite</div>
<div style="position:absolute;left:567.00px;top:733.00px;width:35.00px;height:15.00px;background:#c0c0c0;"></div>
<div style="position:absolute;left:567.00px;top:748.00px;width:35.00px;height:14.00px;background:#808080;"></div>
<div style="position:absolute;left:612.00px;top:736.88px;font-size:9px;line-height:9px;font-weight:normal;font-style:normal;color:#161616;white-space:nowrap;">Weak Graphite</div>
<div style="position:absolute;left:612.00px;top:751.28px;font-size:9px;line-height:9px;font-weight:normal;font-style:normal;color:#161616;white-space:nowrap;">Moderate to Strong Graphite</div>
<div style="position:absolute;left:568.60px;top:807.68px;font-size:9px;line-height:9px;font-weight:bold;font-style:normal;color:#111;white-space:nowrap;">Radioactivity</div>
<div style="position:absolute;left:566.00px;top:827.80px;width:35.00px;height:1.00px;background:#c4a49c;"></div>
<div style="position:absolute;left:611.50px;top:823.38px;font-size:9px;line-height:9px;font-weight:normal;font-style:normal;color:#161616;white-space:nowrap;">Gamma Probe Profile (cps)</div>
<svg style="position:absolute;left:535px;top:845px" width="100" height="100" viewBox="0 0 100 100">
<circle cx="49.6" cy="48.4" r="43" fill="#79be3e"/>
<polygon points="49.4,22.4 27.2,61.7 72.2,61.6" fill="#fff"/>
<polygon points="49.5,46.9 40.2,63.2 58.8,63.2" fill="#79be3e"/>
<g><path d="M49.4,22.4 L46.4,17.9 C44,15.5 42,14.8 40.2,14.8 L30.9,14.5 C26,15 22,16 19.4,17.6 L5,8 L0,31 L12.3,29 C15,26.5 18,24.5 21.6,23.5 C24,22.3 27,21.3 29.7,21 L40.2,21 C44,21.2 47,22 49.4,22.4 Z" fill="#fff"/><path d="M30.3,30.9 C26,33 21,38.5 18.2,44 C16.3,48 15.6,52 15.4,56" fill="none" stroke="#fff" stroke-width="2.9" stroke-linecap="butt"/><path d="M17,50 L13.5,52 C13,56 12.6,59 12.7,62 C12.8,66 13.5,70 14.8,74.8 L8,84 L34,101 L37.1,90.3 C34,88.5 32,87.5 30,86 C27,84 25,82 23.5,79.7 C21.5,77 20,74.5 19.5,72 C18.3,69 17.5,66 17.3,63.6 C17.2,59 17.3,55 17.9,50 Z" fill="#fff"/><circle cx="30.3" cy="30.9" r="5.1" fill="#fff"/></g>
<g transform="rotate(120 49.6 48.6)"><path d="M49.4,22.4 L46.4,17.9 C44,15.5 42,14.8 40.2,14.8 L30.9,14.5 C26,15 22,16 19.4,17.6 L5,8 L0,31 L12.3,29 C15,26.5 18,24.5 21.6,23.5 C24,22.3 27,21.3 29.7,21 L40.2,21 C44,21.2 47,22 49.4,22.4 Z" fill="#fff"/><path d="M30.3,30.9 C26,33 21,38.5 18.2,44 C16.3,48 15.6,52 15.4,56" fill="none" stroke="#fff" stroke-width="2.9" stroke-linecap="butt"/><path d="M17,50 L13.5,52 C13,56 12.6,59 12.7,62 C12.8,66 13.5,70 14.8,74.8 L8,84 L34,101 L37.1,90.3 C34,88.5 32,87.5 30,86 C27,84 25,82 23.5,79.7 C21.5,77 20,74.5 19.5,72 C18.3,69 17.5,66 17.3,63.6 C17.2,59 17.3,55 17.9,50 Z" fill="#fff"/><circle cx="30.3" cy="30.9" r="5.1" fill="#fff"/></g>
<g transform="rotate(240 49.6 48.6)"><path d="M49.4,22.4 L46.4,17.9 C44,15.5 42,14.8 40.2,14.8 L30.9,14.5 C26,15 22,16 19.4,17.6 L5,8 L0,31 L12.3,29 C15,26.5 18,24.5 21.6,23.5 C24,22.3 27,21.3 29.7,21 L40.2,21 C44,21.2 47,22 49.4,22.4 Z" fill="#fff"/><path d="M30.3,30.9 C26,33 21,38.5 18.2,44 C16.3,48 15.6,52 15.4,56" fill="none" stroke="#fff" stroke-width="2.9" stroke-linecap="butt"/><path d="M17,50 L13.5,52 C13,56 12.6,59 12.7,62 C12.8,66 13.5,70 14.8,74.8 L8,84 L34,101 L37.1,90.3 C34,88.5 32,87.5 30,86 C27,84 25,82 23.5,79.7 C21.5,77 20,74.5 19.5,72 C18.3,69 17.5,66 17.3,63.6 C17.2,59 17.3,55 17.9,50 Z" fill="#fff"/><circle cx="30.3" cy="30.9" r="5.1" fill="#fff"/></g>
</svg>
<svg style="position:absolute;left:0;top:0" width="806" height="1024">
<g fill="#1a1a1a">
<polygon points="642.8,899.6 656.7,870.1 661.9,870.1 674.5,899.6 668.8,899.6 659.3,876.5 648.4,899.6"/>
<rect x="650" y="888.8" width="17" height="4"/>
<rect x="676.2" y="870.1" width="23.9" height="4"/>
<rect x="685.3" y="870.1" width="5.7" height="29.5"/>
<rect x="708.4" y="870" width="5" height="29.7"/>
<rect x="728.8" y="870" width="5" height="29.7"/>
<rect x="710" y="883.9" width="22" height="3.9"/>
<polygon points="740.2,899.7 754.6,870 759.6,870 772,899.7 766,899.7 757.1,876.5 745.7,899.7"/>
<rect x="747" y="889.5" width="18" height="4"/>
</g></svg>
<div style="position:absolute;left:641.30px;top:905.69px;font-size:13.6px;line-height:13.6px;font-weight:normal;font-style:normal;color:#84b45c;white-space:nowrap;-webkit-text-stroke:0.2px #84b45c;">E</div>
<div style="position:absolute;left:651.80px;top:905.69px;font-size:13.6px;line-height:13.6px;font-weight:normal;font-style:normal;color:#84b45c;white-space:nowrap;-webkit-text-stroke:0.2px #84b45c;">N</div>
<div style="position:absolute;left:663.90px;top:905.69px;font-size:13.6px;line-height:13.6px;font-weight:normal;font-style:normal;color:#84b45c;white-space:nowrap;-webkit-text-stroke:0.2px #84b45c;">E</div>
<div style="position:absolute;left:674.30px;top:905.69px;font-size:13.6px;line-height:13.6px;font-weight:normal;font-style:normal;color:#84b45c;white-space:nowrap;-webkit-text-stroke:0.2px #84b45c;">R</div>
<div style="position:absolute;left:685.20px;top:905.69px;font-size:13.6px;line-height:13.6px;font-weight:normal;font-style:normal;color:#84b45c;white-space:nowrap;-webkit-text-stroke:0.2px #84b45c;">G</div>
<div style="position:absolute;left:697.80px;top:905.69px;font-size:13.6px;line-height:13.6px;font-weight:normal;font-style:normal;color:#84b45c;white-space:nowrap;-webkit-text-stroke:0.2px #84b45c;">Y</div>
<div style="position:absolute;left:719.00px;top:905.69px;font-size:13.6px;line-height:13.6px;font-weight:normal;font-style:normal;color:#84b45c;white-space:nowrap;-webkit-text-stroke:0.2px #84b45c;">C</div>
<div style="position:absolute;left:731.20px;top:905.69px;font-size:13.6px;line-height:13.6px;font-weight:normal;font-style:normal;color:#84b45c;white-space:nowrap;-webkit-text-stroke:0.2px #84b45c;">O</div>
<div style="position:absolute;left:744.70px;top:905.69px;font-size:13.6px;line-height:13.6px;font-weight:normal;font-style:normal;color:#84b45c;white-space:nowrap;-webkit-text-stroke:0.2px #84b45c;">R</div>
<div style="position:absolute;left:756.00px;top:905.69px;font-size:13.6px;line-height:13.6px;font-weight:normal;font-style:normal;color:#84b45c;white-space:nowrap;-webkit-text-stroke:0.2px #84b45c;">P</div>
<div style="position:absolute;left:768.90px;top:905.69px;font-size:13.6px;line-height:13.6px;font-weight:normal;font-style:normal;color:#84b45c;white-space:nowrap;-webkit-text-stroke:0.2px #84b45c;">.</div>
<div style="position:absolute;left:657.00px;top:970.90px;font-size:20.2px;line-height:20.2px;font-weight:normal;font-style:normal;color:#111;white-space:nowrap;transform:translateX(-50%);">Angilak</div>
<div style="position:absolute;left:657.80px;top:998.09px;font-size:18.2px;line-height:18.2px;font-weight:normal;font-style:normal;color:#111;white-space:nowrap;transform:translateX(-50%);">RIB East</div>
</body></html>
